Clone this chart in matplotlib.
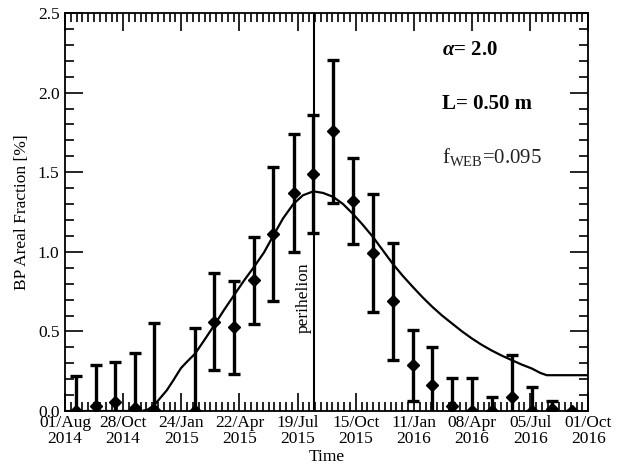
import numpy as np
import matplotlib
matplotlib.use('Agg')
import matplotlib.pyplot as plt
from matplotlib.ticker import MultipleLocator, FixedLocator

plt.rcParams['font.family'] = 'Liberation Serif'
plt.rcParams['mathtext.fontset'] = 'custom'
plt.rcParams['mathtext.rm'] = 'Liberation Serif'
plt.rcParams['mathtext.it'] = 'Liberation Serif:italic'
plt.rcParams['mathtext.bf'] = 'Liberation Serif:bold'
plt.rcParams['mathtext.bfit'] = 'Liberation Serif:italic:bold'

# days since 01/Aug/2014
obs_days = [16.6, 46.5, 75.7, 106, 135, 197, 226, 256, 286, 315, 346, 376,
            406, 435.4, 465.7, 496, 526.3, 556, 585.7, 616, 645.8, 676, 706.5, 736.8, 767]
bp_frac = [0.0, 0.033, 0.055, 0.017, 0.005, 0.0, 0.56, 0.525, 0.82, 1.11, 1.37, 1.49,
           1.756, 1.317, 0.995, 0.688, 0.287, 0.165, 0.033, 0.0, 0.0, 0.09, 0.0, 0.01, 0.0]
bp_err = [0.22, 0.255, 0.255, 0.345, 0.55, 0.52, 0.305, 0.29, 0.275, 0.42, 0.37, 0.37,
          0.45, 0.27, 0.37, 0.37, 0.225, 0.235, 0.175, 0.21, 0.085, 0.265, 0.15, 0.055, 0.0]

# model curve
model_days = [0, 116, 125.6, 135, 143.8, 154, 163.5, 171, 175.6, 184.7, 196.8, 210, 226,
              240.7, 256.2, 271, 286, 301, 315, 330, 345.5, 360, 375.8, 390.5, 406,
              420.8, 435.4, 450.6, 465.7, 480.9, 496, 511, 526.3, 541, 556, 570.6, 585.7,
              600.9, 616, 631, 645.8, 661, 676, 691, 706.5, 719, 729, 792]
model_frac = [0.0, 0.0, 0.01, 0.037, 0.08, 0.13, 0.19, 0.24, 0.27, 0.31, 0.36, 0.44, 0.54,
              0.635, 0.73, 0.82, 0.905, 0.995, 1.1, 1.21, 1.30, 1.355, 1.38, 1.37, 1.345,
              1.30, 1.24, 1.17, 1.095, 1.01, 0.925, 0.85, 0.78, 0.715, 0.654, 0.60, 0.55,
              0.50, 0.455, 0.415, 0.38, 0.348, 0.32, 0.292, 0.267, 0.24, 0.225, 0.225]

tick_days = [0, 88, 176, 264, 352, 440, 528, 616, 704, 792]
tick_labels = ['01/Aug\n2014', '28/Oct\n2014', '24/Jan\n2015', '22/Apr\n2015', '19/Jul\n2015',
               '15/Oct\n2015', '11/Jan\n2016', '08/Apr\n2016', '05/Jul\n2016', '01/Oct\n2016']
perihelion_day = 377

fig = plt.figure(figsize=(6.24, 4.66), dpi=100)
ax = fig.add_axes([0.1042, 0.118, 0.8386, 0.854])

ax.plot(model_days, model_frac, color='black', lw=1.6)
ax.errorbar(obs_days, bp_frac, yerr=bp_err, fmt='D', color='black', ms=5.8,
            elinewidth=2.4, capsize=4.3, capthick=2.4, clip_on=True)
ax.axvline(perihelion_day, color='black', lw=1.5)
ax.text(perihelion_day - 3, 0.715, 'perihelion', rotation=90, ha='right', va='center',
        fontsize=12.5)

ax.text(0.72, 0.907, r'$\mathbfit{\alpha}$= 2.0', transform=ax.transAxes, fontsize=15,
        fontweight='bold', va='center')
ax.text(0.72, 0.771, 'L= 0.50 m', transform=ax.transAxes, fontsize=15,
        fontweight='bold', va='center')
ax.text(0.72, 0.638, r'f$_{\rm WEB}$=0.095', transform=ax.transAxes, fontsize=15,
        color='#222222', va='center')

ax.set_xlim(0, 792)
ax.set_ylim(0, 2.5)
ax.xaxis.set_major_locator(FixedLocator(tick_days))
ax.xaxis.set_minor_locator(FixedLocator(np.arange(0, 792.1, 8.8)))
ax.set_xticklabels(tick_labels, linespacing=1.0)
ax.yaxis.set_major_locator(MultipleLocator(0.5))
ax.yaxis.set_minor_locator(MultipleLocator(0.1))
ax.yaxis.set_major_formatter(plt.FormatStrFormatter('%.1f'))

ax.tick_params(which='both', direction='in', top=True, right=True, labelsize=12.5, width=1.2)
ax.tick_params(which='major', length=13)
ax.tick_params(which='minor', length=6.5)
ax.tick_params(axis='x', pad=3)
ax.tick_params(axis='y', pad=4)
for s in ax.spines.values():
    s.set_linewidth(1.3)

ax.set_xlabel('Time', fontsize=12.5, labelpad=1)
ax.set_ylabel('BP Areal Fraction [%]', fontsize=12.5, labelpad=6)

fig.savefig('out.png', dpi=100)
